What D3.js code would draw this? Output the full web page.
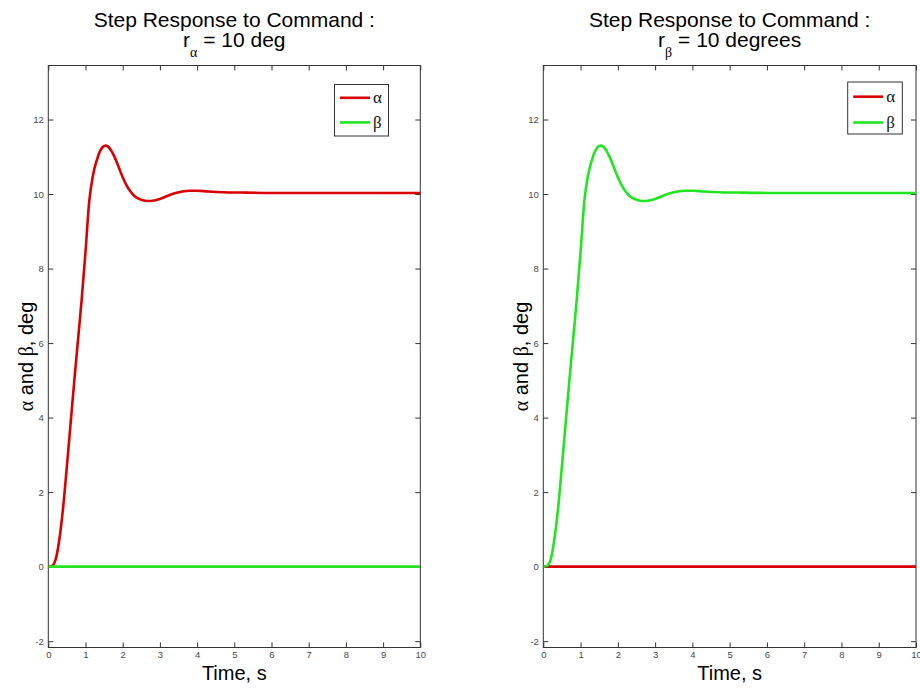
<!DOCTYPE html>
<html>
<head>
<meta charset="utf-8">
<script src="https://cdn.jsdelivr.net/npm/d3@7"></script>
<style>
  html, body { margin: 0; padding: 0; background: #fff; }
  svg { display: block; }
  .tick text { font-family: "Liberation Sans", Arial, sans-serif; font-size: 9.5px; fill: #4a4a4a; }
  .tick line { stroke: #333; stroke-width: 1; }
</style>
</head>
<body>
<svg id="chart" width="920" height="689"></svg>
<script>
// Time base (s) for the commanded channel's step response
const time = [0, 0.1, 0.2, 0.3, 0.4, 0.5, 0.6, 0.7, 0.8, 0.9, 1.0, 1.1, 1.2, 1.3, 1.4, 1.5, 1.55, 1.6,
  1.7, 1.8, 1.9, 2.0, 2.1, 2.2, 2.3, 2.4, 2.5, 2.6, 2.7, 2.8, 3.0, 3.2, 3.4, 3.6, 3.8, 4.0,
  4.3, 4.7, 5.2, 6, 7, 8, 9, 10];

// Response of the commanded angle to a 10 deg step (deg)
const commandedResponse = [0, 0.02, 0.2, 0.75, 1.6, 2.7, 3.85, 5.0, 6.1, 7.2, 8.45, 9.8, 10.5, 10.9,
  11.17, 11.29, 11.3, 11.28, 11.15, 10.95, 10.7, 10.45, 10.24, 10.08, 9.96, 9.89, 9.85, 9.82,
  9.815, 9.82, 9.87, 9.95, 10.02, 10.07, 10.09, 10.09, 10.07, 10.05, 10.04, 10.03, 10.03,
  10.03, 10.03, 10.03];

// The other (uncommanded) angle stays at zero
const offAxisTime = [0, 10];
const offAxisResponse = [0, 0];

// Axis ticks
const xTicks = [0, 1, 2, 3, 4, 5, 6, 7, 8, 9, 10];
const yTicks = [-2, 0, 2, 4, 6, 8, 10, 12];
const xDomain = [0, 10];
const yDomain = [-2.17, 13.45];

// Series labels and colours
const seriesNames = ["\u03b1", "\u03b2"];
const seriesColors = ["#d80000", "#22e522"];

const panels = [
  {
    left: 48.3, right: 420.3,
    subscript: "\u03b1", titleRest: " = 10 deg",
    alpha: { t: time, v: commandedResponse },
    beta: { t: offAxisTime, v: offAxisResponse },
    legend: { x: 334.5, y: 84.5, w: 54, h: 51.5, row1: 13.3, row2: 37.9 }
  },
  {
    left: 543.3, right: 916,
    subscript: "\u03b2", titleRest: " = 10 degrees",
    alpha: { t: offAxisTime, v: offAxisResponse },
    beta: { t: time, v: commandedResponse },
    legend: { x: 847.7, y: 82, w: 54.6, h: 52, row1: 14.7, row2: 40.5 }
  }
];

const plotTop = 65.5, plotBottom = 647.5;
const svg = d3.select("#chart");
const sans = "'Liberation Sans', Arial, Helvetica, sans-serif";
const serif = "'Liberation Serif', 'Times New Roman', serif";

panels.forEach((p, i) => {
  const x = d3.scaleLinear().domain(xDomain).range([p.left, p.right]);
  const y = d3.scaleLinear().domain(yDomain).range([plotBottom, plotTop]);
  const cx = (p.left + p.right) / 2;
  const g = svg.append("g");

  // clip region for the plotted lines
  const clipId = "clip" + i;
  svg.append("defs").append("clipPath").attr("id", clipId)
    .append("rect").attr("x", p.left).attr("y", plotTop)
    .attr("width", p.right - p.left).attr("height", plotBottom - plotTop);

  // inward-pointing ticks on all four sides
  const axB = g.append("g").attr("transform", `translate(0,${plotBottom})`)
    .call(d3.axisBottom(x).tickValues(xTicks).tickSizeInner(-5).tickSizeOuter(0).tickPadding(5).tickFormat(d3.format("d")));
  const axT = g.append("g").attr("transform", `translate(0,${plotTop})`)
    .call(d3.axisTop(x).tickValues(xTicks).tickSizeInner(-5).tickSizeOuter(0).tickFormat(""));
  const axL = g.append("g").attr("transform", `translate(${p.left},0)`)
    .call(d3.axisLeft(y).tickValues(yTicks).tickSizeInner(-5).tickSizeOuter(0).tickPadding(4.5).tickFormat(d3.format("d")));
  const axR = g.append("g").attr("transform", `translate(${p.right},0)`)
    .call(d3.axisRight(y).tickValues(yTicks).tickSizeInner(-5).tickSizeOuter(0).tickFormat(""));
  [axB, axT, axL, axR].forEach(a => a.select(".domain").remove());
  axB.selectAll(".tick text").attr("dy", "0.6em");
  axL.selectAll(".tick text").text(d => d < 0 ? "-" + Math.abs(d) : d);

  // axes box
  g.append("rect").attr("x", p.left).attr("y", plotTop)
    .attr("width", p.right - p.left).attr("height", plotBottom - plotTop)
    .attr("fill", "none").attr("stroke", "#333").attr("stroke-width", 1);

  // response lines
  const line = d3.line().x(d => x(d[0])).y(d => y(d[1])).curve(d3.curveMonotoneX);
  const lines = g.append("g").attr("clip-path", `url(#${clipId})`);
  [p.alpha, p.beta].forEach((s, k) => {
    lines.append("path")
      .datum(s.t.map((t, j) => [t, s.v[j]]))
      .attr("d", line)
      .attr("fill", "none")
      .attr("stroke", seriesColors[k])
      .attr("stroke-width", 2.6)
      .attr("stroke-linejoin", "round");
  });

  // title, two lines with a subscripted reference symbol
  g.append("text").attr("x", cx).attr("y", 27).attr("text-anchor", "middle")
    .attr("font-family", sans).attr("font-size", 21).attr("fill", "#000")
    .text("Step Response to Command :");
  const t2 = g.append("text").attr("x", cx).attr("y", 47).attr("text-anchor", "middle")
    .attr("font-family", sans).attr("font-size", 21).attr("fill", "#000");
  t2.append("tspan").text("r");
  t2.append("tspan").attr("dy", 10).attr("font-family", serif).attr("font-size", 14).text(p.subscript);
  t2.append("tspan").attr("dy", -10).text(p.titleRest);

  // x label
  g.append("text").attr("x", cx).attr("y", 680).attr("text-anchor", "middle")
    .attr("font-family", sans).attr("font-size", 20).attr("fill", "#000")
    .text("Time, s");

  // y label
  const yl = g.append("text")
    .attr("transform", `translate(${p.left - 15.5},356.5) rotate(-90)`)
    .attr("text-anchor", "middle")
    .attr("font-family", sans).attr("font-size", 20).attr("fill", "#000");
  yl.append("tspan").attr("font-family", serif).text("\u03b1");
  yl.append("tspan").text(" and ");
  yl.append("tspan").attr("font-family", serif).text("\u03b2");
  yl.append("tspan").text(", deg");

  // legend
  const L = p.legend;
  const lg = g.append("g");
  lg.append("rect").attr("x", L.x).attr("y", L.y).attr("width", L.w).attr("height", L.h)
    .attr("fill", "#fff").attr("stroke", "#333").attr("stroke-width", 1);
  [L.row1, L.row2].forEach((r, k) => {
    lg.append("line")
      .attr("x1", L.x + 5.5).attr("x2", L.x + 35.5)
      .attr("y1", L.y + r).attr("y2", L.y + r)
      .attr("stroke", seriesColors[k]).attr("stroke-width", 2.6);
    lg.append("text").attr("x", L.x + 38.5).attr("y", L.y + r + 5.5)
      .attr("font-family", serif).attr("font-size", 17).attr("fill", "#111")
      .text(seriesNames[k]);
  });
});
</script>
</body>
</html>
